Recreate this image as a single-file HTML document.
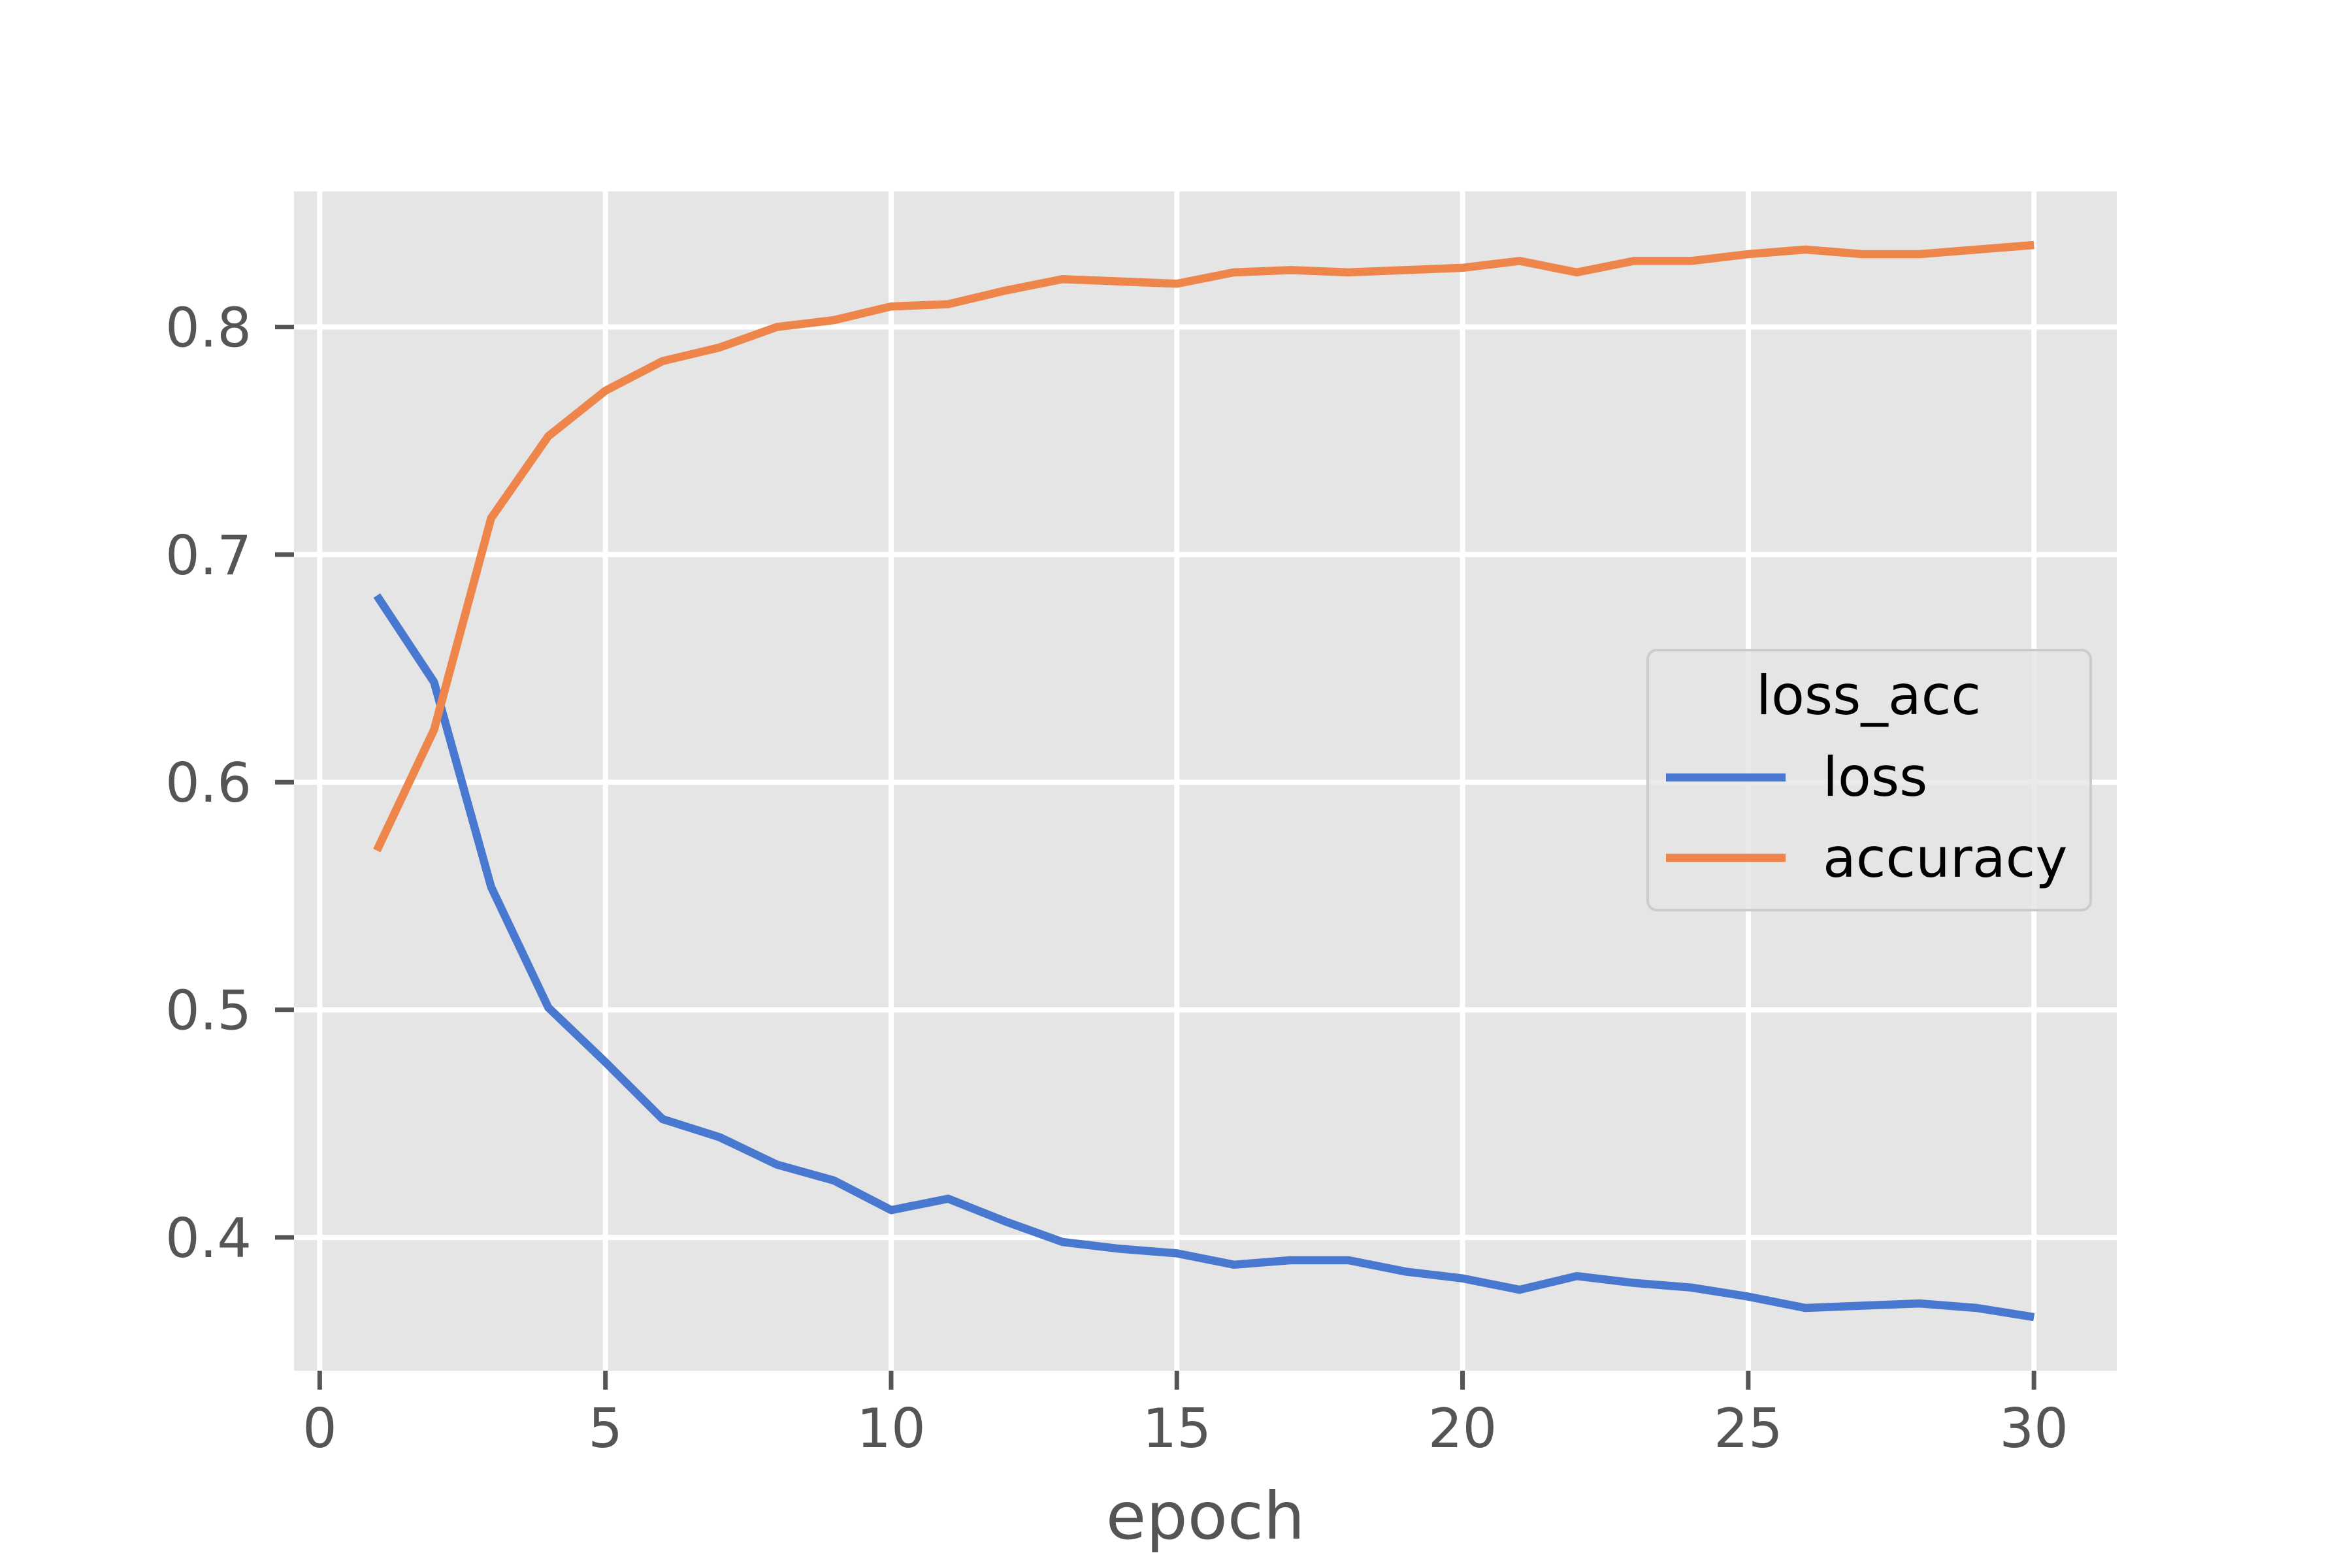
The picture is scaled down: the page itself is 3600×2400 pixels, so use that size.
<!DOCTYPE html>
<html><head><meta charset="utf-8"><style>
html,body{margin:0;padding:0;background:#fff;}
svg{display:block;font-family:"DejaVu Sans","Liberation Sans",sans-serif;}
</style></head><body>
<svg id="chart" width="3600" height="2400" viewBox="0 0 3600 2400" xmlns="http://www.w3.org/2000/svg">
<rect x="0" y="0" width="3600" height="2400" fill="#ffffff"/>
<rect x="450" y="293" width="2790" height="1805" fill="#e5e5e5"/>
<g id="grid"></g>
<g id="axes"></g>
<g id="series"></g>
<text x="1845" y="2355" font-size="100" fill="#555555" text-anchor="middle">epoch</text>
<g>
<rect x="2522" y="995" width="678" height="398" rx="14" fill="#e5e5e5" fill-opacity="0.8" stroke="#cccccc" stroke-width="4"/>
<text x="2860" y="1093" font-size="83" fill="#000" text-anchor="middle">loss_acc</text>
<g>
<line x1="2550" y1="1190" x2="2733" y2="1190" stroke="#4878d0" stroke-width="12.5"/>
<text x="2790" y="1218" font-size="83" fill="#000">loss</text>
</g>
<g>
<line x1="2550" y1="1313" x2="2733" y2="1313" stroke="#ee854a" stroke-width="12.5"/>
<text x="2790" y="1342" font-size="83" fill="#000">accuracy</text>
</g>
</g>
</svg>
<script>
const epochs = [1,2,3,4,5,6,7,8,9,10,11,12,13,14,15,16,17,18,19,20,21,22,23,24,25,26,27,28,29,30];
const lossValues = [0.682,0.644,0.554,0.501,0.477,0.452,0.444,0.432,0.425,0.412,0.417,0.407,0.398,0.395,0.393,0.388,0.390,0.390,0.385,0.382,0.377,0.383,0.380,0.378,0.374,0.369,0.370,0.371,0.369,0.365];
const accValues = [0.570,0.623,0.716,0.752,0.772,0.785,0.791,0.800,0.803,0.809,0.810,0.816,0.821,0.820,0.819,0.824,0.825,0.824,0.825,0.826,0.829,0.824,0.829,0.829,0.832,0.834,0.832,0.832,0.834,0.836];
const xTicks = [0,5,10,15,20,25,30];
const yTicks = [0.4,0.5,0.6,0.7,0.8];
const yTickLabels = ["0.4","0.5","0.6","0.7","0.8"];

const NS = "http://www.w3.org/2000/svg";
const L = 450, R = 3240, T = 293, B = 2098;
const xmin0 = Math.min(...epochs), xmax0 = Math.max(...epochs);
const xpad = (xmax0 - xmin0) * 0.05;
const xmin = xmin0 - xpad, xmax = xmax0 + xpad;
const all = lossValues.concat(accValues);
const ymin0 = Math.min(...all), ymax0 = Math.max(...all);
const ypad = (ymax0 - ymin0) * 0.05;
const ymin = ymin0 - ypad, ymax = ymax0 + ypad;
function xs(v){ return L + (v - xmin) / (xmax - xmin) * (R - L); }
function ys(v){ return B - (v - ymin) / (ymax - ymin) * (B - T); }
function mk(tag, attrs){ const e = document.createElementNS(NS, tag); for (const k in attrs) e.setAttribute(k, attrs[k]); return e; }

const grid = document.getElementById('grid');
const axes = document.getElementById('axes');
xTicks.forEach(t => {
  const x = xs(t);
  const g = mk('line', {x1:x, y1:T, x2:x, y2:B, stroke:'#ffffff', 'stroke-width':8});
  
  
  grid.appendChild(g);
  const tk = mk('line', {x1:x, y1:B, x2:x, y2:B+29, stroke:'#555555', 'stroke-width':7});
  
  
  axes.appendChild(tk);
  const tx = mk('text', {x:x, y:2215, 'font-size':83, fill:'#555555', 'text-anchor':'middle'});
  
  
  tx.textContent = String(t);
  axes.appendChild(tx);
});
yTicks.forEach((t, i) => {
  const y = ys(t);
  const g = mk('line', {x1:L, y1:y, x2:R, y2:y, stroke:'#ffffff', 'stroke-width':8});
  
  
  grid.appendChild(g);
  const tk = mk('line', {x1:L-29, y1:y, x2:L, y2:y, stroke:'#555555', 'stroke-width':7});
  
  
  axes.appendChild(tk);
  const tx = mk('text', {x:385, y:y+30, 'font-size':83, fill:'#555555', 'text-anchor':'end'});
  
  
  tx.textContent = yTickLabels[i];
  axes.appendChild(tx);
});
const series = document.getElementById('series');
function drawLine(vals, color, name){
  const pts = epochs.map((e, i) => xs(e).toFixed(1) + ',' + ys(vals[i]).toFixed(1)).join(' ');
  const p = mk('polyline', {points:pts, fill:'none', stroke:color, 'stroke-width':12.5, 'stroke-linejoin':'round'});
  
  
  series.appendChild(p);
}
drawLine(lossValues, '#4878d0', 'loss-line');
drawLine(accValues, '#ee854a', 'accuracy-line');
</script>
</body></html>
